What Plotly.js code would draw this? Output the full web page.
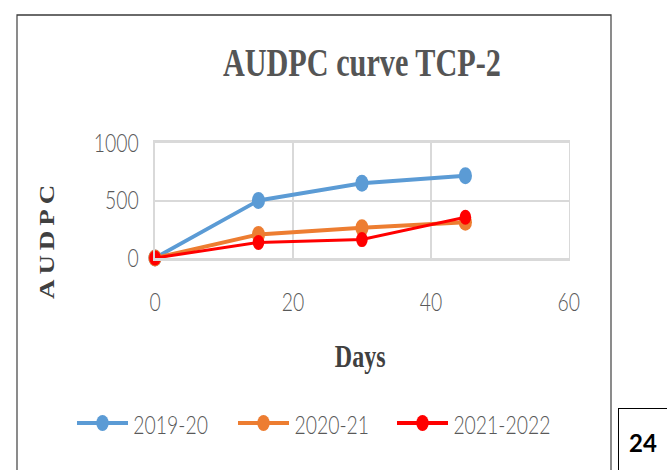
<!DOCTYPE html>
<html>
<head>
<meta charset="utf-8">
<script src="https://cdn.plot.ly/plotly-3.0.1.min.js"></script>
<style>
  html, body { margin: 0; padding: 0; background: #fff; overflow: hidden; width: 667px; height: 470px; }
  #wrap { position: absolute; left: 0; top: 0; width: 861px; height: 470px; transform: scaleX(0.775); transform-origin: 0 0; }
  #chart g.annotation[data-index="1"] text { letter-spacing: 5px; }
  #page { position: absolute; left: 618px; top: 408px; width: 80px; height: 90px; border: 1px solid #000;
          font-family: Lato, "Open Sans", sans-serif; font-weight: bold; font-size: 24px; color: #000; }
  #page span { position: absolute; left: 10px; top: 19px; }
</style>
</head>
<body>
<div id="wrap"><div id="chart"></div></div>
<div id="page"><span>24</span></div>
<script>
// Days after first observation and AUDPC for each season
const days = [0, 15, 30, 45];
const audpc2019 = [0, 500, 650, 715];
const audpc2020 = [0, 205, 262, 310];
const audpc2021 = [0, 135, 160, 355];
const seasonNames = ['2019-20', '2020-21', '2021-2022'];
const seasonColors = ['#5B9BD5', '#ED7D31', '#FF0000'];
const xTicks = [0, 20, 40, 60];
const yTicks = [0, 500, 1000];

// the chart is drawn wide and squeezed horizontally by the wrapper
const SX = 0.775;
const W = 861, H = 470;
const M = { l: 200, r: 127, t: 143, b: 212 };
const plotW = W - M.l - M.r, plotH = H - M.t - M.b;
const fx = xs => (xs / SX - M.l) / plotW;       // on-screen x -> paper
const fy = y => (H - M.b - y) / plotH;          // on-screen y -> paper

const series = [audpc2019, audpc2020, audpc2021];
const lineW = [4, 4, 3];
const markSize = [17, 17, 15];

const traces = series.map((vals, i) => ({
  x: days, y: vals, name: seasonNames[i], type: 'scatter', mode: 'lines+markers',
  line: { color: seasonColors[i], width: lineW[i] },
  marker: { color: seasonColors[i], size: markSize[i] },
  cliponaxis: false, showlegend: false
}));

const grid = '#D9D9D9';
const shapes = [
  // chart frame
  { type: 'rect', xref: 'paper', yref: 'paper', x0: fx(17), x1: fx(611), y0: fy(15), y1: fy(490),
    line: { color: '#3a3a3a', width: 1.5 }, layer: 'below' }
];
const annotations = [
  { text: 'Days', xref: 'paper', yref: 'paper', x: fx(360), y: fy(356), xanchor: 'center', yanchor: 'middle',
    showarrow: false, font: { family: 'Liberation Serif', size: 31, weight: 'bold', color: '#404040' } },
  { text: 'AUDPC', xref: 'paper', yref: 'paper', x: fx(47), y: fy(239), xanchor: 'center', yanchor: 'middle',
    textangle: -90, showarrow: false, font: { family: 'Liberation Serif', size: 27, weight: 'bold', color: '#404040' } }
];

// legend row built from the series names and colours
const legX = [77, 238, 397];
const legY = 423;
seasonNames.forEach((name, i) => {
  shapes.push({ type: 'line', xref: 'paper', yref: 'paper', x0: fx(legX[i]), x1: fx(legX[i] + 51),
    y0: fy(legY), y1: fy(legY), line: { color: seasonColors[i], width: 4 } });
  shapes.push({ type: 'circle', xref: 'paper', yref: 'paper', xsizemode: 'pixel', ysizemode: 'pixel',
    xanchor: fx(legX[i] + 25.5), yanchor: fy(legY), x0: -8, x1: 8, y0: -8, y1: 8,
    fillcolor: seasonColors[i], line: { width: 0 } });
  annotations.push({ text: name, xref: 'paper', yref: 'paper', x: fx(legX[i] + 55), y: fy(legY + 1),
    xanchor: 'left', yanchor: 'middle', showarrow: false,
    font: { family: 'Lato', size: 25, weight: 300, color: '#595959' } });
});

const layout = {
  width: W, height: H,
  margin: M,
  paper_bgcolor: 'rgba(0,0,0,0)', plot_bgcolor: '#fff',
  showlegend: false,
  title: { text: 'AUDPC curve TCP-2', x: 0.5, xref: 'paper', xanchor: 'center',
    y: 1 - 62 / H, yref: 'container', yanchor: 'middle',
    font: { family: 'Liberation Serif', size: 39, weight: 'bold', color: '#555555' } },
  xaxis: {
    range: [0, 60], tickvals: xTicks, ticktext: xTicks.map(String),
    showgrid: true, gridcolor: grid, gridwidth: 2.6, zeroline: false,
    showline: true, mirror: true, linecolor: grid, linewidth: 2.6,
    ticks: '', ticklabelstandoff: 20,
    tickfont: { family: 'Lato', size: 25, weight: 300, color: '#595959' }, fixedrange: true
  },
  yaxis: {
    range: [0, 1000], tickvals: yTicks, ticktext: yTicks.map(String),
    showgrid: true, gridcolor: grid, gridwidth: 2, zeroline: false,
    showline: true, mirror: true, linecolor: grid, linewidth: 2,
    ticks: '', ticklabelstandoff: 14,
    tickfont: { family: 'Lato', size: 25, weight: 300, color: '#595959' }, fixedrange: true
  },
  shapes: shapes,
  annotations: annotations
};

Plotly.newPlot('chart', traces, layout, { staticPlot: true, displayModeBar: false });
</script>
</body>
</html>
